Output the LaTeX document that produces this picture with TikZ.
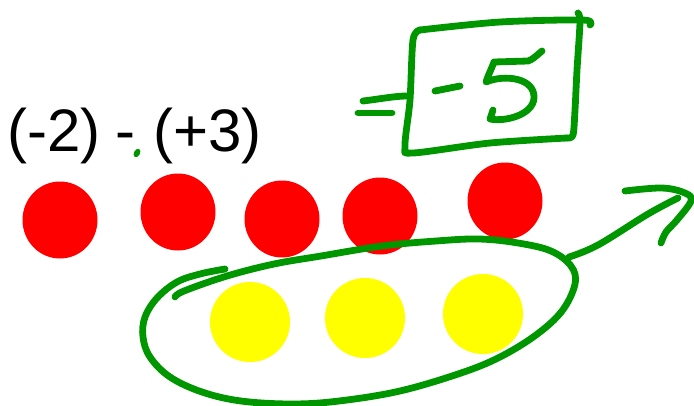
\documentclass[tikz,border=0pt]{standalone}
\usepackage{fontspec}
\setmainfont{Liberation Sans}
\usetikzlibrary{shapes.geometric}
\definecolor{pen}{RGB}{0,150,0}
\definecolor{redball}{RGB}{255,0,0}
\definecolor{yellowball}{RGB}{255,255,0}
\tikzset{
  redc/.style={ellipse, fill=redball, minimum width=75pt, minimum height=77pt, inner sep=0pt},
  yelc/.style={ellipse, fill=yellowball, minimum width=80pt, minimum height=80pt, inner sep=0pt},
  ink/.style={draw=pen, line width=6.8pt, line cap=round, line join=round},
  bigtxt/.style={font=\fontsize{60}{64}\selectfont, inner sep=0pt, anchor=base west}
}
\begin{document}
\begin{tikzpicture}[x=1pt,y=-1pt]
\useasboundingbox (0,0) rectangle (694,405);
% text
\node[bigtxt] (a) at (7,151) {(-2)};
\node[bigtxt] (m) at (115,151) {-};
\node[bigtxt] (b) at (153,151) {(+3)};
\fill[pen, rotate around={-30:(137,153)}] (137,153) ellipse (3pt and 4.5pt);
% red circles
\node[redc] (r1) at (60,220) {};
\node[redc] (r2) at (178,212) {};
\node[redc] (r3) at (282,219) {};
\node[redc] (r4) at (380,216) {};
\node[redc] (r5) at (505,201) {};
% yellow circles
\node[yelc] (y1) at (250,322) {};
\node[yelc] (y2) at (365,318) {};
\node[yelc] (y3) at (483,314) {};
% lasso
\draw[ink] plot[smooth, tension=0.6] coordinates {
 (225,269) (200,274) (177,282) (157,298) (145,317) (143,337) (150,357) (170,377)
 (202,392) (241,401) (292,404) (339,401) (400,391) (461,373) (500,357) (536,335)
 (562,311) (575,284) (571,266) (551,251) (518,243) (479,239) (436,241) (382,246)
 (321,256) (274,264) (227,276) (184,291) (175,297)};
% arrow
\draw[ink] plot[smooth, tension=0.6] coordinates {(569,257) (598,245) (648,214) (678,198)};
\draw[ink] plot[smooth, tension=0.6] coordinates {(625,191) (662,188) (685,193) (691,201) (677,220) (666,232) (661,243)};
% equals sign
\draw[ink] (363,101) .. controls (380,99) and (395,96) .. (407,96);
\draw[ink] (358,113) -- (392,113);
% box
\draw[ink] plot[smooth, tension=0.5] coordinates {(578,13) (580,22) (577,70) (575,110) (573,135) (567,138)};
\draw[ink] plot[smooth, tension=0.5] coordinates {(567,138) (490,143) (413,153) (405,146) (410,100) (413,40) (420,30)};
\draw[ink] plot[smooth, tension=0.5] coordinates {(420,30) (500,22) (583,20) (590,25)};
% minus and five
\draw[ink] (435,91) -- (460,86);
\draw[ink] (542,51) .. controls (536,56) and (532,60) .. (528,61) -- (494,62)
  .. controls (491,70) and (487,78) .. (486,82)
  .. controls (505,74) and (535,78) .. (534,98)
  .. controls (533,115) and (505,122) .. (490,119) -- (493,110);
\end{tikzpicture}
\end{document}
